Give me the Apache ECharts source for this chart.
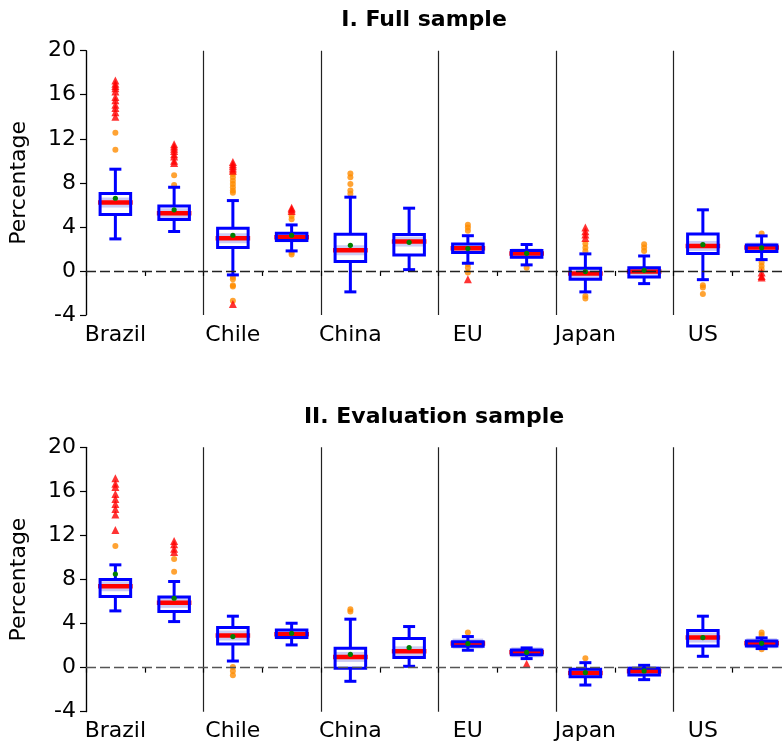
<!DOCTYPE html>
<html>
<head>
<meta charset="utf-8">
<script src="https://cdn.jsdelivr.net/npm/echarts@6/dist/echarts.min.js"></script>
<style>html,body{margin:0;padding:0;background:#fff;overflow:hidden}#c{width:800px;height:745px}</style>
</head>
<body>
<div id="c"></div>
<script>
// ---- data ----
const countries = ['Brazil', 'Chile', 'China', 'EU', 'Japan', 'US'];
const yTicks = [-4, 0, 4, 8, 12, 16, 20];
const panelTitles = ['I. Full sample', 'II. Evaluation sample'];

// [lower whisker, Q1, median, Q3, upper whisker]
const fullBox = [
  [2.91, 5.12, 6.21, 7.03, 9.24],
  [3.58, 4.67, 5.24, 5.90, 7.60],
  [-0.36, 2.12, 2.97, 3.88, 6.39],
  [1.82, 2.76, 3.06, 3.42, 4.18],
  [-1.90, 0.85, 1.88, 3.33, 6.70],
  [0.12, 1.45, 2.67, 3.30, 5.70],
  [0.70, 1.67, 2.06, 2.45, 3.20],
  [0.55, 1.24, 1.58, 1.85, 2.40],
  [-1.90, -0.76, -0.24, 0.24, 1.55],
  [-1.15, -0.55, -0.06, 0.30, 1.36],
  [-0.79, 1.58, 2.27, 3.36, 5.55],
  [1.03, 1.76, 2.12, 2.36, 3.18]
];
const fullMean = [6.6, 5.55, 3.24, 3.24, 2.33, 2.6, 2.03, 1.6, -0.06, 0.06, 2.39, 2.1];
const fullMild = [
  [11.0, 12.55],
  [7.8, 8.7],
  [7.1, 7.3, 7.6, 7.9, 8.2, 8.5, 8.8, -0.55, -0.76, -1.3, -1.42, -2.7],
  [4.7, 5.0, 1.67, 1.5],
  [7.0, 7.3, 7.9, 8.5, 8.85],
  [],
  [3.64, 3.94, 4.2, 0.6, 0.3, -0.15],
  [0.3],
  [1.8, 2.1, 2.48, -2.27, -2.5],
  [1.82, 2.12, 2.42],
  [-1.3, -1.5, -2.1],
  [3.4, 0.76, 0.45, 0.15]
];
const fullExtreme = [
  [14.0, 14.4, 14.8, 15.1, 15.5, 15.8, 16.3, 16.6, 16.8, 17.0, 17.3],
  [9.8, 10.0, 10.4, 10.6, 10.9, 11.1, 11.3, 11.5],
  [9.1, 9.3, 9.5, 9.7, 9.9, -3.0],
  [5.45, 5.6, 5.75],
  [], [], [-0.75], [],
  [3.0, 3.3, 3.6, 3.94],
  [], [],
  [-0.15, -0.45, -0.6]
];

const evalBox = [
  [5.15, 6.45, 7.39, 8.00, 9.33],
  [4.18, 5.09, 5.88, 6.42, 7.82],
  [0.60, 2.15, 2.91, 3.64, 4.67],
  [2.06, 2.73, 3.03, 3.42, 4.03],
  [-1.24, -0.06, 0.97, 1.76, 4.40],
  [0.12, 0.91, 1.48, 2.64, 3.73],
  [1.58, 1.94, 2.18, 2.36, 2.82],
  [0.82, 1.18, 1.39, 1.60, 1.79],
  [-1.58, -0.82, -0.48, -0.15, 0.45],
  [-1.09, -0.67, -0.33, -0.06, 0.21],
  [1.03, 1.97, 2.73, 3.36, 4.67],
  [1.73, 1.97, 2.21, 2.42, 2.70]
];
const evalMean = [8.5, 6.3, 2.82, 3.12, 1.21, 1.82, 2.18, 1.39, -0.45, -0.3, 2.73, 2.21];
const evalMild = [
  [11.03],
  [8.7, 9.85],
  [0.06, -0.3, -0.7],
  [],
  [5.1, 5.3],
  [],
  [3.2],
  [],
  [0.85],
  [],
  [],
  [3.18, 2.97, 1.67]
];
const evalExtreme = [
  [12.5, 13.9, 14.4, 14.85, 15.3, 15.75, 16.4, 16.7, 17.2],
  [10.5, 10.8, 11.2, 11.5],
  [], [], [], [], [],
  [0.36],
  [], [], [], []
];

// ---- chart ----
const FONT = 'DejaVu Sans';
const slots = [];
countries.forEach(c => { slots.push(c + '|a'); slots.push(c + '|b'); });

function flat(lists) {
  const out = [];
  lists.forEach((l, i) => l.forEach(v => out.push([i, v])));
  return out;
}

function renderBox(params, api) {
  const i = api.value(0);
  const wlo = api.coord([i, api.value(1)]);
  const q1 = api.coord([i, api.value(2)]);
  const med = api.coord([i, api.value(3)]);
  const q3 = api.coord([i, api.value(4)]);
  const whi = api.coord([i, api.value(5)]);
  const mean = api.coord([i, api.value(6)]);
  const x = med[0];
  const bw = api.size([1, 0])[0] * 0.52;
  const cap = 12;
  const blue = '#0000ff';
  const ls = { stroke: blue, lineWidth: 3, fill: null };
  return {
    type: 'group',
    children: [
      { type: 'rect', shape: { x: x - bw / 2, y: med[1] - 5, width: bw, height: 10 },
        style: { fill: 'rgba(160,160,235,0.55)' } },
      { type: 'line', shape: { x1: x, y1: q3[1], x2: x, y2: whi[1] }, style: ls },
      { type: 'line', shape: { x1: x, y1: q1[1], x2: x, y2: wlo[1] }, style: ls },
      { type: 'line', shape: { x1: x - cap / 2, y1: whi[1], x2: x + cap / 2, y2: whi[1] }, style: ls },
      { type: 'line', shape: { x1: x - cap / 2, y1: wlo[1], x2: x + cap / 2, y2: wlo[1] }, style: ls },
      { type: 'line', shape: { x1: x - bw / 2 - 2, y1: med[1], x2: x + bw / 2 + 2, y2: med[1] },
        style: { stroke: '#ff0000', lineWidth: 4.5 } },
      { type: 'rect', shape: { x: x - bw / 2, y: q3[1], width: bw, height: q1[1] - q3[1] }, style: ls },
      { type: 'circle', shape: { cx: x, cy: mean[1], r: 2.6 }, style: { fill: '#008000' } }
    ]
  };
}

const grids = [
  { left: 86, top: 50.7, width: 705, height: 264.3 },
  { left: 86, top: 447.3, width: 705, height: 264.4 }
];
const panels = [
  { box: fullBox, mean: fullMean, mild: fullMild, extreme: fullExtreme, zero: '#222' },
  { box: evalBox, mean: evalMean, mild: evalMild, extreme: evalExtreme, zero: '#555' }
];

const option = {
  animation: false,
  backgroundColor: '#fff',
  title: [
    { text: panelTitles[0], left: 424, top: 9, textAlign: 'center', padding: 0,
      textStyle: { fontFamily: FONT, fontSize: 22, fontWeight: 'bold', color: '#000' } },
    { text: panelTitles[1], left: 434, top: 406, textAlign: 'center', padding: 0,
      textStyle: { fontFamily: FONT, fontSize: 22, fontWeight: 'bold', color: '#000' } }
  ],
  grid: grids,
  xAxis: grids.map((g, k) => ({
    type: 'category', gridIndex: k, data: slots, boundaryGap: true,
    axisLine: { show: false },
    axisTick: { show: true, length: 5, inside: false, interval: 0, lineStyle: { color: '#000', width: 1.2 } },
    axisLabel: { interval: 0, margin: 9, fontFamily: FONT, fontSize: 22, color: '#000',
      formatter: v => v.endsWith('|a') ? v.split('|')[0] : '' },
    splitLine: { show: true, interval: (idx) => idx % 2 === 0, lineStyle: { color: '#222', width: 1.2 } }
  })),
  yAxis: grids.map((g, k) => ({
    type: 'value', gridIndex: k, min: yTicks[0], max: yTicks[yTicks.length - 1], interval: 4,
    name: 'Percentage', nameLocation: 'middle', nameGap: 56,
    nameTextStyle: { fontFamily: FONT, fontSize: 22, color: '#000' },
    axisLine: { show: true, lineStyle: { color: '#000', width: 1.2 } },
    axisTick: { show: true, length: 6, lineStyle: { color: '#000', width: 1.2 } },
    axisLabel: { margin: 10, fontFamily: FONT, fontSize: 22, color: '#000' },
    splitLine: { show: false }
  })),
  series: []
};

panels.forEach((p, k) => {
  option.series.push({
    type: 'scatter', xAxisIndex: k, yAxisIndex: k, symbol: 'circle', symbolSize: 6,
    itemStyle: { color: '#ff8c00' }, data: flat(p.mild), z: 2,
    markLine: { silent: true, symbol: 'none', label: { show: false },
      lineStyle: { color: p.zero, width: 1.3, type: [10, 4] }, data: [{ yAxis: 0 }] }
  });
  option.series.push({
    type: 'scatter', xAxisIndex: k, yAxisIndex: k, symbol: 'triangle', symbolSize: 8,
    itemStyle: { color: '#ff0000' }, data: flat(p.extreme), z: 2
  });
  option.series.push({
    type: 'custom', xAxisIndex: k, yAxisIndex: k, renderItem: renderBox, z: 3,
    encode: { x: 0, y: [1, 2, 3, 4, 5, 6] },
    data: p.box.map((b, i) => [i, b[0], b[1], b[2], b[3], b[4], p.mean[i]])
  });
});

const chart = echarts.init(document.getElementById('c'), null, { renderer: 'canvas' });
chart.setOption(option);
</script>
</body>
</html>
